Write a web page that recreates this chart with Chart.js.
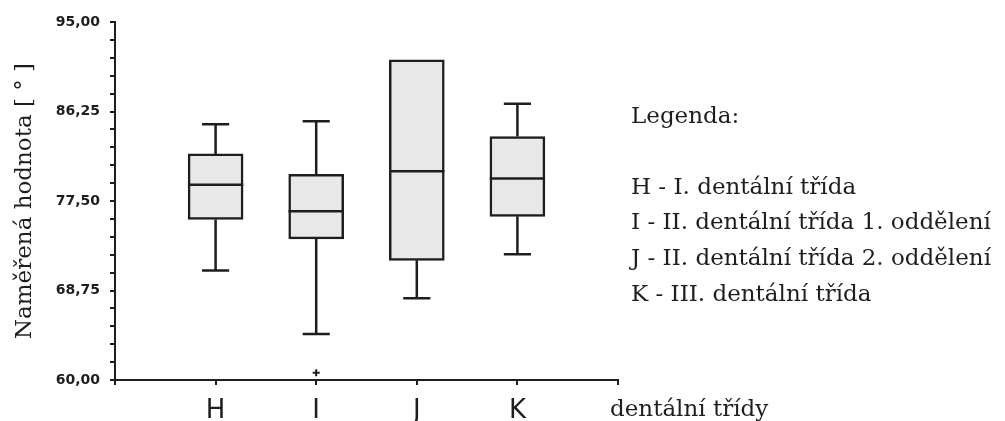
<!DOCTYPE html>
<html>
<head>
<meta charset="utf-8">
<script src="https://cdn.jsdelivr.net/npm/chart.js@4.4.1/dist/chart.umd.min.js"></script>
<style>
  html, body { margin: 0; padding: 0; background: #ffffff; }
  #wrap { width: 1005px; height: 421px; }
</style>
</head>
<body>
<div id="wrap"><canvas id="boxplot"></canvas></div>
<script>
// skupiny (pozice na ose x = 1..4)
const skupiny = ['H', 'I', 'J', 'K'];
const pozice = [1, 2, 3, 4];
const minima = [70.7, 64.5, 68.0, 72.3];
const kvartil1 = [75.7, 73.8, 71.7, 76.0];
const mediany = [79.1, 76.5, 80.4, 79.7];
const kvartil3 = [82.1, 80.1, 91.3, 83.8];
const maxima = [85.0, 85.3, 91.3, 87.0];
// odlehla hodnota u I
const odlehleX = [2];
const odlehleY = [60.7];

const yTickLabels = ['60,00', '68,75', '77,50', '86,25', '95,00'];
const legendaTitulek = 'Legenda:';
const legendaRadky = [
  'H - I. dentální třída',
  'I - II. dentální třída 1. oddělení',
  'J - II. dentální třída 2. oddělení',
  'K - III. dentální třída'
];
const popisX = 'dentální třídy';
const popisY = 'Naměřená hodnota [ ° ]';

const barvaCar = '#1e1e1e';

// vousy, mediany a texty vpravo
const boxPlugin = {
  id: 'boxExtra',
  afterDatasetsDraw(chart) {
    const ctx = chart.ctx;
    const x = chart.scales.x;
    const y = chart.scales.y;
    ctx.save();
    ctx.strokeStyle = barvaCar;
    ctx.lineWidth = 2.5;
    pozice.forEach((p, i) => {
      const cx = x.getPixelForValue(p);
      const half = (x.getPixelForValue(p + 0.275) - cx);
      const cap = (x.getPixelForValue(p + 0.135) - cx);
      const yMin = y.getPixelForValue(minima[i]);
      const yQ1 = y.getPixelForValue(kvartil1[i]);
      const yMed = y.getPixelForValue(mediany[i]);
      const yQ3 = y.getPixelForValue(kvartil3[i]);
      const yMax = y.getPixelForValue(maxima[i]);
      ctx.beginPath();
      if (maxima[i] > kvartil3[i]) {
        ctx.moveTo(cx, yQ3); ctx.lineTo(cx, yMax);
        ctx.moveTo(cx - cap, yMax); ctx.lineTo(cx + cap, yMax);
      }
      if (minima[i] < kvartil1[i]) {
        ctx.moveTo(cx, yQ1); ctx.lineTo(cx, yMin);
        ctx.moveTo(cx - cap, yMin); ctx.lineTo(cx + cap, yMin);
      }
      ctx.moveTo(cx - half, yMed); ctx.lineTo(cx + half, yMed);
      ctx.stroke();
    });
    ctx.restore();
  },
  afterDraw(chart) {
    const ctx = chart.ctx;
    const area = chart.chartArea;
    ctx.save();
    ctx.fillStyle = barvaCar;
    ctx.textBaseline = 'alphabetic';
    ctx.textAlign = 'left';
    ctx.font = '23px "DejaVu Serif"';
    ctx.fillText(popisX, area.right - 8, 416);
    ctx.fillText(legendaTitulek, 631, 123);
    legendaRadky.forEach((t, i) => {
      ctx.fillText(t, 631, 193.5 + i * 35.8);
    });
    ctx.restore();
  }
};

const ctx = document.getElementById('boxplot').getContext('2d');

new Chart(ctx, {
  type: 'bar',
  data: {
    datasets: [{
      label: 'box',
      data: pozice.map((p, i) => ({ x: p, y: [kvartil1[i], kvartil3[i]] })),
      backgroundColor: '#e8e8e8',
      borderColor: barvaCar,
      borderWidth: 2.5,
      borderSkipped: false,
      barThickness: 55
    }, {
      type: 'scatter',
      label: 'odlehle',
      data: odlehleX.map((v, i) => ({ x: v, y: odlehleY[i] })),
      pointStyle: 'cross',
      radius: 3.5,
      borderColor: barvaCar,
      borderWidth: 2
    }]
  },
  options: {
    responsive: true,
    maintainAspectRatio: false,
    animation: false,
    layout: {
      padding: { left: 0, right: 387, top: 22, bottom: 0 }
    },
    plugins: {
      legend: { display: false },
      tooltip: { enabled: false }
    },
    scales: {
      x: {
        type: 'linear',
        offset: false,
        min: 0,
        max: 5,
        afterFit: (s) => { s.height = 41; },
        border: { color: barvaCar, width: 2 },
        grid: { drawOnChartArea: false, offset: false, tickLength: 5, color: barvaCar, lineWidth: 2 },
        ticks: {
          stepSize: 1,
          autoSkip: false,
          maxRotation: 0,
          padding: 11,
          color: barvaCar,
          font: { family: 'DejaVu Sans', size: 26 },
          callback: (v) => skupiny[pozice.indexOf(v)] || ''
        }
      },
      y: {
        min: 60,
        max: 95,
        afterFit: (s) => { s.width = 115; },
        border: { color: barvaCar, width: 2 },
        grid: { drawOnChartArea: false, tickLength: 5, color: barvaCar, lineWidth: 2 },
        title: {
          display: true,
          text: popisY,
          color: barvaCar,
          font: { family: 'DejaVu Serif', size: 23 },
          padding: { top: 11, bottom: 0 }
        },
        ticks: {
          stepSize: 1.75,
          autoSkip: false,
          padding: 10,
          color: barvaCar,
          font: { family: 'DejaVu Sans', size: 14, weight: 'bold' },
          callback: (v, i) => (i % 5 === 0 ? yTickLabels[i / 5] : '')
        }
      }
    }
  },
  plugins: [boxPlugin]
});
</script>
</body>
</html>
